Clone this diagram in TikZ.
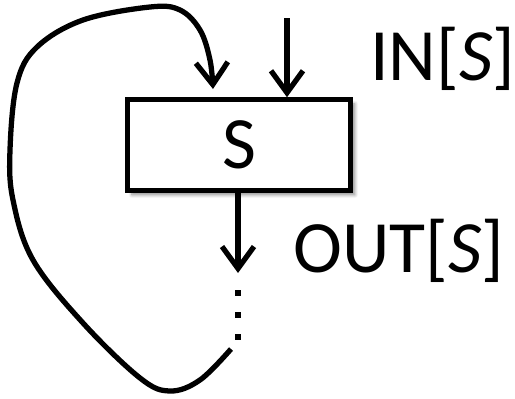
\documentclass[tikz,border=0pt]{standalone}
\usepackage{fontspec}
\setmainfont{Carlito}
\usetikzlibrary{arrows.meta,positioning,shadows.blur}

\tikzset{
  flow/.style={line width=3pt, -{Straight Barb[length=0.44cm, width=0.64cm, line width=3pt]}},
  blockbox/.style={draw, line width=2.6pt, fill=white, minimum width=4.46cm, minimum height=1.82cm,
    inner sep=0pt, blur shadow={shadow xshift=2.5pt, shadow yshift=-2.5pt, shadow blur steps=6, shadow opacity=45}},
  biglabel/.style={font=\fontsize{42}{50}\selectfont, inner sep=0pt}
}

\begin{document}
\begin{tikzpicture}[x=0.02cm, y=-0.02cm]
\useasboundingbox (0,0) rectangle (515,399);

% --- block S ---
\node[blockbox, biglabel] (blk) at (239,145) {S};

% --- input ---
\coordinate (in) at (287,18);
\draw[flow] (in) -- (in |- blk.north);
\node[biglabel, anchor=base west] (inlbl) at (370,80) {IN[\textit{S}]};

% --- output ---
\coordinate (out) at (238,273);
\draw[flow] (blk.south -| out) -- (out);
\node[biglabel, anchor=base west] (outlbl) at (293,273) {OUT[\textit{S}]};

% dots
\foreach \y in {293,315,337}
  \fill (235,{\y-3}) rectangle (241,{\y+3});

% --- loop back ---
\coordinate (back) at (231,349);
\coordinate (loopend) at (213,89);
\draw[flow] plot[smooth, tension=0.6] coordinates {(back) (200,380) (170,391) (140,378) (83,323) (33,260)
  (13,200) (10,150) (17,83) (37,47) (83,20) (150,7) (180,10) (200,30) (210,60) (loopend)};

\end{tikzpicture}
\end{document}
